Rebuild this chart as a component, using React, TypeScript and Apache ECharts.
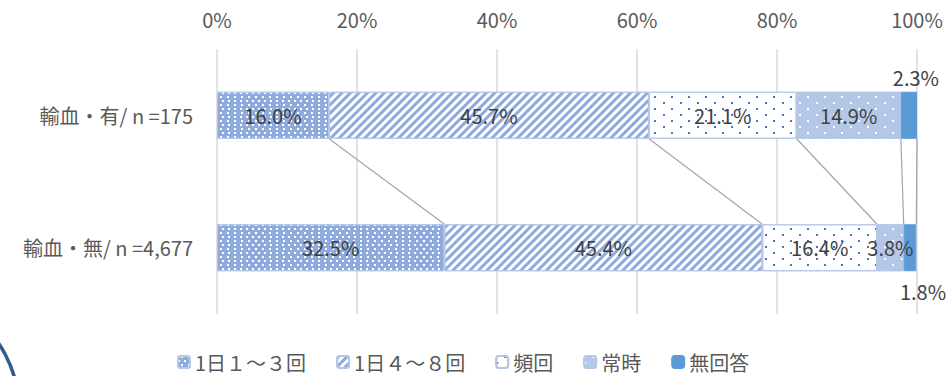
import React, { useEffect, useRef } from "react";
import * as echarts from "echarts";

const categories = ["輸血・有/ n =175", "輸血・無/ n =4,677"];
const seriesNames = ["1日１～３回", "1日４～８回", "頻回", "常時", "無回答"];
const values1to3 = [16.0, 32.5];
const values4to8 = [45.7, 45.4];
const valuesFrequent = [21.1, 16.4];
const valuesAlways = [14.9, 3.8];
const valuesNoAnswer = [2.3, 1.8];
const xTicks = [0, 20, 40, 60, 80, 100];

const FONT = "'Noto Sans CJK JP', 'Noto Sans', sans-serif";
const BAR_W = 47;

export default function App() {
  const ref = useRef<HTMLDivElement>(null);
  useEffect(() => {
    document.body.style.margin = "0";
    const chart = echarts.init(ref.current!, null, { renderer: "svg" });
    const all = [values1to3, values4to8, valuesFrequent, valuesAlways, valuesNoAnswer];
    const cum = (row: number, k: number) => {
      let s = 0;
      for (let i = 0; i <= k; i++) s += all[i][row];
      return s;
    };
    const connectors = all.map((_, k) => [cum(0, k), cum(1, k), 0]);

    const border = { borderColor: "#B4C7E7", borderWidth: 1 };
    const styles: any[] = [
      {
        color: "#8FAADC",
        ...border,
        decal: {
          symbol: "rect",
          symbolSize: 1,
          color: "#ffffff",
          dashArrayX: [[1.2, 3.4], [0, 2.3, 1.2, 1.1]],
          dashArrayY: [1.2, 1.9],
        },
      },
      {
        color: "#ffffff",
        ...border,
        decal: {
          symbol: "rect",
          symbolSize: 1,
          color: "#8FAADC",
          dashArrayX: [1, 0],
          dashArrayY: [2.5, 2.5],
          rotation: -Math.PI / 4,
        },
      },
      {
        color: "#ffffff",
        ...border,
        decal: {
          symbol: "rect",
          symbolSize: 1,
          color: "#4472C4",
          dashArrayX: [[1.5, 14.5], [0, 8, 1.5, 6.5]],
          dashArrayY: [1.5, 4],
        },
      },
      {
        color: "#B4C7E7",
        ...border,
        decal: {
          symbol: "rect",
          symbolSize: 1,
          color: "#ffffff",
          dashArrayX: [[1.5, 14.5], [0, 8, 1.5, 6.5]],
          dashArrayY: [1.5, 4],
        },
      },
      { color: "#5B9BD5", borderColor: "#5B9BD5", borderWidth: 1 },
    ];

    const labelBase = {
      show: true,
      position: "inside",
      fontSize: 20,
      fontFamily: FONT,
      color: "#404040",
      formatter: (p: any) => Number(p.value).toFixed(1) + "%",
    };

    const barSeries = all.map((vals, k) => ({
      name: seriesNames[k],
      type: "bar",
      stack: "total",
      barWidth: BAR_W,
      itemStyle: styles[k],
      label: labelBase,
      data:
        k === 4
          ? [
              { value: vals[0], label: { position: "top", distance: 4, offset: [7, 0] } },
              { value: vals[1], label: { position: "bottom", distance: 10, offset: [13, 0] } },
            ]
          : vals,
    }));

    chart.setOption({
      animation: false,
      grid: { left: 217, right: 30, top: 49, bottom: 62, containLabel: false },
      legend: {
        data: seriesNames,
        left: 172,
        top: 347,
        itemWidth: 12,
        itemHeight: 12,
        itemGap: 30,
        textStyle: { fontSize: 20, fontFamily: FONT, color: "#595959" },
      },
      xAxis: {
        type: "value",
        position: "top",
        min: xTicks[0],
        max: xTicks[xTicks.length - 1],
        interval: 20,
        axisLine: { show: false },
        axisTick: { show: false },
        splitLine: { lineStyle: { color: "#D9D9D9", width: 1.5 } },
        axisLabel: {
          formatter: "{value}%",
          fontSize: 20,
          fontFamily: FONT,
          color: "#595959",
          margin: 20,
        },
      },
      yAxis: {
        type: "category",
        data: categories,
        inverse: true,
        axisLine: { show: false },
        axisTick: { show: false },
        axisLabel: { fontSize: 20, fontFamily: FONT, color: "#595959", margin: 24 },
      },
      graphic: [
        {
          type: "circle",
          shape: { cx: -100, cy: 410, r: 119 },
          style: { fill: "none", stroke: "#2F5B8E", lineWidth: 3.5 },
          silent: true,
        },
      ],
      series: [
        ...barSeries,
        {
          type: "custom",
          name: "connectors",
          silent: true,
          encode: { x: [0, 1], y: 2 },
          data: connectors,
          z: 1,
          renderItem: (params: any, api: any) => {
            const p1 = api.coord([api.value(0), 0]);
            const p2 = api.coord([api.value(1), 1]);
            return {
              type: "line",
              shape: { x1: p1[0], y1: p1[1] + BAR_W / 2, x2: p2[0], y2: p2[1] - BAR_W / 2 },
              style: { stroke: "#A5A5A5", lineWidth: 1.2 },
            };
          },
        },
      ],
    });
    return () => chart.dispose();
  }, []);
  return <div ref={ref} style={{ width: 947, height: 376 }} />;
}
